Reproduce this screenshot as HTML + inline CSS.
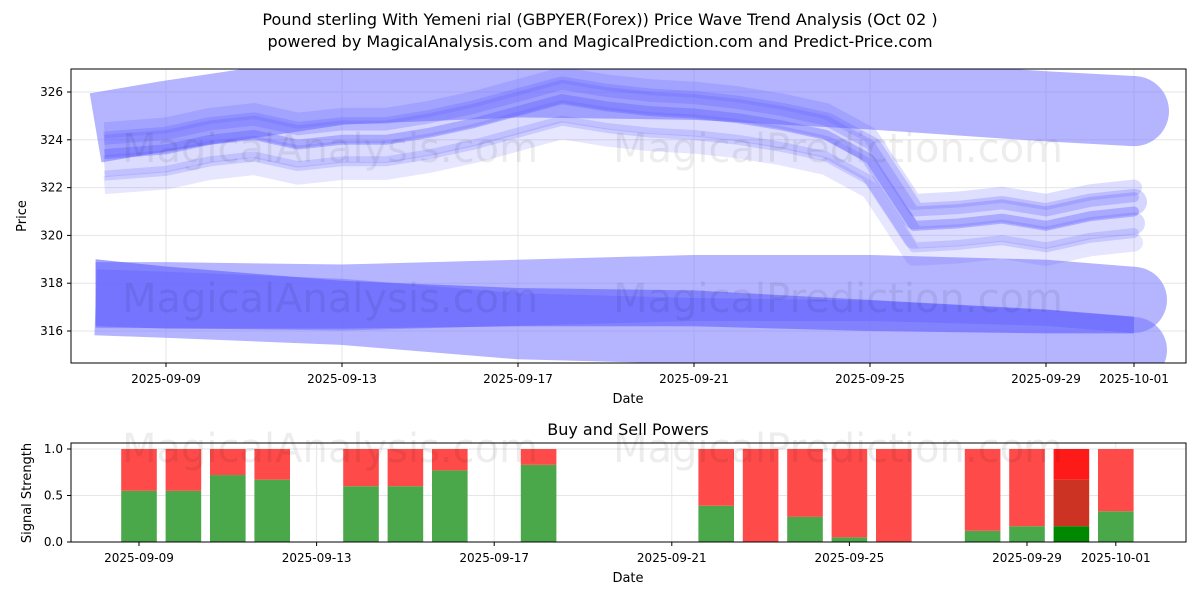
<!DOCTYPE html>
<html><head><meta charset="utf-8"><style>
body{margin:0;background:#fff;font-family:"Liberation Sans","DejaVu Sans",sans-serif}
svg text{font-family:"DejaVu Sans","Liberation Sans",sans-serif}
</style></head><body>
<svg id="c" width="1200" height="600" xmlns="http://www.w3.org/2000/svg">
<text x="600" y="25" text-anchor="middle" font-size="16">Pound sterling With Yemeni rial (GBPYER(Forex)) Price Wave Trend Analysis (Oct 02 )</text>
<text x="600" y="47" text-anchor="middle" font-size="16">powered by MagicalAnalysis.com and MagicalPrediction.com and Predict-Price.com</text>
<g id="topg"></g><g id="botg"></g>
</svg>
<script>
// Top chart data (day of Sep; Oct 1 = 31)
const priceDays=[7.6,9,10,11,12,13,14,15,16,17,18,19,20,21,22,23,24,25,26,27,28,29,30,31];
const priceVals=[323.4,323.6,324,324.2,323.8,324,324,324.3,324.7,325.2,325.7,325.4,325.2,325.1,324.9,324.6,324.2,323.2,320.4,320.5,320.7,320.4,320.8,321];
const bandDays=[7.4,9,13,17,21,25,29,31];
const upperBandVals=[324.5,325,326.1,326.4,326.3,325.9,325.4,325.2];
const lowerBand1Vals=[317.5,317.5,317.4,317.6,317.8,317.8,317.6,317.3];
const lowerBand2Vals=[317.2,317.1,316.8,316.2,316,315.9,315.5,315.2];
const darkTopVals=[319,318.7,318.1,317.8,317.7,317.3,316.9,316.6];
const darkBotVals=[316.2,316.1,316.1,316.2,316.2,316,315.9,315.9];
const yTicks=[316,318,320,322,324,326];
const xTickDays=[9,13,17,21,25,29,31];
const xTickLabels=["2025-09-09","2025-09-13","2025-09-17","2025-09-21","2025-09-25","2025-09-29","2025-10-01"];
// Bottom chart data
const barDays=[9,10,11,12,14,15,16,18,22,23,24,25,26,28,29,30,31];
const buyVals=[0.55,0.55,0.72,0.67,0.6,0.6,0.77,0.83,0.39,0,0.27,0.05,0,0.12,0.17,0.17,0.33];
const sigTicks=[0,0.5,1];
const sigLabels=["0.0","0.5","1.0"];

const NS="http://www.w3.org/2000/svg";
const X=d=>166+(d-9)*44;
const Y=v=>92+(326-v)*23.9;
const X2=d=>139+(d-9)*44.4;
const Y2=v=>542-v*93;
function mk(p,tag,a){const e=document.createElementNS(NS,tag);for(const k in a)e.setAttribute(k,a[k]);p.appendChild(e);return e;}
const topG=document.getElementById('topg'),botG=document.getElementById('botg');
yTicks.forEach(v=>{const l=mk(topG,'line',{x1:71,x2:1186,y1:Y(v),y2:Y(v),stroke:'#e6e6e6'});
 
 
 mk(topG,'line',{x1:67,x2:71,y1:Y(v),y2:Y(v),stroke:'#000'});
 const t=mk(topG,'text',{x:63,y:Y(v)+4,'text-anchor':'end','font-size':12});t.textContent=v;
 
 });
xTickDays.forEach((d,i)=>{const l=mk(topG,'line',{x1:X(d),x2:X(d),y1:69,y2:363,stroke:'#e6e6e6'});
 
 
 mk(topG,'line',{x1:X(d),x2:X(d),y1:363,y2:367,stroke:'#000'});
 const t=mk(topG,'text',{x:X(d),y:383,'text-anchor':'middle','font-size':12});t.textContent=xTickLabels[i];
 
 });
const clip=mk(topG,'clipPath',{id:'cp'});mk(clip,'rect',{x:71,y:69,width:1115,height:294});
const g=mk(topG,'g',{'clip-path':'url(#cp)'});
function band(days,vals,w,col,op,name){
 const sg=mk(g,'g',{opacity:op});
 const p=mk(sg,'polyline',{points:days.map((d,i)=>X(d)+','+Y(vals[i])).join(' '),fill:'none',stroke:col,'stroke-width':w,'stroke-linecap':'butt','stroke-linejoin':'round'});
 
 
 const n=days.length-1;
 const c=mk(sg,'circle',{cx:X(days[n]),cy:Y(vals[n]),r:w/2,fill:col});
 
 }
band(bandDays,upperBandVals,70,'#7777ff',0.55,'upper-wave-band');
band(bandDays,lowerBand1Vals,66,'#7777ff',0.55,'lower-wave-band');
band(bandDays,lowerBand2Vals,66,'#7777ff',0.55,'lower-wave-band-2');
const dk=mk(g,'polygon',{points:bandDays.map((d,i)=>X(d)+','+Y(darkTopVals[i])).concat(bandDays.slice().reverse().map((d,i)=>X(d)+','+Y(darkBotVals[bandDays.length-1-i]))).join(' '),fill:'#6060ff','fill-opacity':0.6});


[[0.4,26,0.25],[-0.5,22,0.22],[1,16,0.2],[-1.3,18,0.15],[0,10,0.35],[0.6,10,0.25],[-0.9,10,0.2]].forEach(([o,w,op])=>band(priceDays,priceVals.map(v=>v+o),w,'#5a5aff',op,'price-wave'));
[[330,162,'MagicalAnalysis.com'],[838,162,'MagicalPrediction.com'],[330,312,'MagicalAnalysis.com'],[838,312,'MagicalPrediction.com']].forEach(w=>{
 const t=mk(topG,'text',{x:w[0],y:w[1],'text-anchor':'middle','font-size':40,fill:'#000','fill-opacity':0.07});t.textContent=w[2];
 
 });
mk(topG,'rect',{x:71,y:69,width:1115,height:294,fill:'none',stroke:'#000'});
const yl=mk(topG,'text',{x:26,y:216,'text-anchor':'middle','font-size':13,transform:'rotate(-90 26 216)'});yl.textContent='Price';
const xl=mk(topG,'text',{x:628,y:403,'text-anchor':'middle','font-size':13});xl.textContent='Date';
// bottom
const bt=mk(botG,'text',{x:628,y:435,'text-anchor':'middle','font-size':16});bt.textContent='Buy and Sell Powers';
sigTicks.forEach((v,i)=>{mk(botG,'line',{x1:71,x2:1186,y1:Y2(v),y2:Y2(v),stroke:'#e6e6e6'});
 mk(botG,'line',{x1:67,x2:71,y1:Y2(v),y2:Y2(v),stroke:'#000'});
 const t=mk(botG,'text',{x:63,y:Y2(v)+4,'text-anchor':'end','font-size':12});t.textContent=sigLabels[i];
 
 });
xTickDays.forEach((d,i)=>{mk(botG,'line',{x1:X2(d),x2:X2(d),y1:443,y2:542,stroke:'#e6e6e6'});
 mk(botG,'line',{x1:X2(d),x2:X2(d),y1:542,y2:546,stroke:'#000'});
 const t=mk(botG,'text',{x:X2(d),y:562,'text-anchor':'middle','font-size':12});t.textContent=xTickLabels[i];
 
 });
barDays.forEach((d,i)=>{const b=buyVals[i],x=X2(d)-17.8;
 const special=d===30;
 const gr=mk(botG,'rect',{x:x,y:Y2(b),width:35.6,height:Y2(0)-Y2(b),fill:special?'#008800':'#4aa84a'});
 
 
 if(special){const m=mk(botG,'rect',{x:x,y:Y2(0.67),width:35.6,height:Y2(b)-Y2(0.67),fill:'#cc3322'});
  
  
  const r=mk(botG,'rect',{x:x,y:Y2(1),width:35.6,height:Y2(0.67)-Y2(1),fill:'#ff1a1a'});
  
  }
 else{const r=mk(botG,'rect',{x:x,y:Y2(1),width:35.6,height:Y2(b)-Y2(1),fill:'#ff4a4a'});
  
  }
});
const w1=mk(botG,'text',{x:330,y:462,'text-anchor':'middle','font-size':40,fill:'#000','fill-opacity':0.07});w1.textContent='MagicalAnalysis.com';
const w2=mk(botG,'text',{x:838,y:462,'text-anchor':'middle','font-size':40,fill:'#000','fill-opacity':0.07});w2.textContent='MagicalPrediction.com';
mk(botG,'rect',{x:71,y:443,width:1115,height:99,fill:'none',stroke:'#000'});
const yl2=mk(botG,'text',{x:31,y:493,'text-anchor':'middle','font-size':13,transform:'rotate(-90 31 493)'});yl2.textContent='Signal Strength';
const xl2=mk(botG,'text',{x:628,y:582,'text-anchor':'middle','font-size':13});xl2.textContent='Date';
</script>
</body></html>
